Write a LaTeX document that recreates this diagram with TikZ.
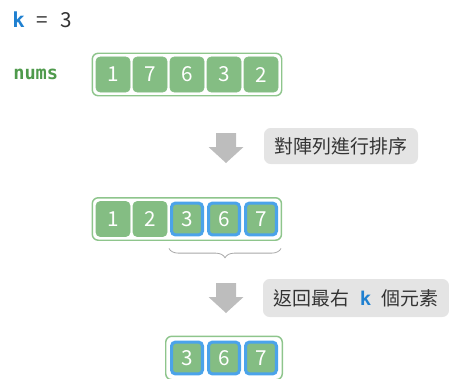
\documentclass[tikz,border=0pt]{standalone}
\usepackage{fontspec}
\setmainfont{Noto Sans CJK TC}
\newfontfamily\codefont{DejaVu Sans Mono}
\usepackage{xcolor}
\usepackage{tikz}
\usetikzlibrary{positioning, fit, calc, decorations.pathreplacing}

\definecolor{cellgreen}{HTML}{84BD83}
\definecolor{framegreen}{HTML}{8EC58C}
\definecolor{pickblue}{HTML}{4BA3EA}
\definecolor{numsgreen}{HTML}{4F9A4C}
\definecolor{kblue}{HTML}{1F80D0}
\definecolor{taggray}{HTML}{E4E4E4}
\definecolor{textgray}{HTML}{333333}
\definecolor{arrowgray}{HTML}{BDBDBD}
\definecolor{bracegray}{HTML}{A8A8A8}

\begin{document}
\begin{tikzpicture}[
    x=0.75pt, y=-0.75pt,
    cell/.style={draw=cellgreen, fill=cellgreen, rounded corners=3pt, text=white,
                 font=\fontsize{15.5}{17}\selectfont, minimum width=25.5pt,
                 minimum height=26.25pt, inner sep=0pt},
    pick/.style={cell, draw=pickblue, line width=2.3pt, minimum width=23.2pt,
                 minimum height=23.9pt},
    frame/.style={draw=framegreen, line width=1.1pt, rounded corners=4.5pt, inner sep=2.6pt},
    tag/.style={fill=taggray, rounded corners=5pt, text=textgray,
                font=\fontsize{14.2}{16}\selectfont, inner sep=0pt},
    blockarrow/.style={fill=arrowgray},
    brace/.style={draw=bracegray, line width=0.6pt,
                  decorate, decoration={brace, mirror, amplitude=7pt}}
]
  \useasboundingbox (0,0) rectangle (449,378);

  % Labels
  \node[anchor=base west, inner sep=0pt, text=textgray, font=\fontsize{15.5}{17}\selectfont] (kval) at (12,27.5)
      {{\codefont\bfseries\color{kblue}k}\hspace{9pt}=\hspace{9pt}3};
  \node[anchor=base west, inner sep=0pt, text=numsgreen, font=\fontsize{14}{16}\selectfont] (nums) at (13,79.5)
      {\codefont\bfseries nums};

  % Input array
  \node[cell] (a1) at (113,74.5) {1};
  \node[cell] (a2) at (150,74.5) {7};
  \node[cell] (a3) at (187,74.5) {6};
  \node[cell] (a4) at (224,74.5) {3};
  \node[cell] (a5) at (261,74.5) {2};
  \node[frame, fit=(a1)(a5)] (inbox) {};

  % Sorted array
  \node[cell] (b1) at (113,219) {1};
  \node[cell] (b2) at (150,219) {2};
  \node[pick] (b3) at (187,219) {3};
  \node[pick] (b4) at (224,219) {6};
  \node[pick] (b5) at (261,219) {7};
  \node[frame, fit=(b1)(b5)] (sortbox) {};

  % Result array
  \node[pick] (c1) at (187,358) {3};
  \node[pick] (c2) at (224,358) {6};
  \node[pick] (c3) at (261,358) {7};
  \node[frame, inner sep=3.2pt, fit=(c1)(c3)] (outbox) {};

  % Steps
  \coordinate (arr1) at (226,133);
  \coordinate (arr2) at (226,283);
  \fill[blockarrow] (arr1) ++(-10,0) -- ++(20,0) -- ++(0,14) -- ++(7.5,0)
      -- ++(-17.5,16) -- ++(-17.5,-16) -- ++(7.5,0) -- cycle;
  \fill[blockarrow] (arr2) ++(-10,0) -- ++(20,0) -- ++(0,14) -- ++(7.5,0)
      -- ++(-17.5,16) -- ++(-17.5,-16) -- ++(7.5,0) -- cycle;

  \node[tag, minimum width=115.5pt, minimum height=27pt] (sortstep) at (341,146)
      {對陣列進行排序};
  \node[tag, minimum width=139.5pt, minimum height=28.5pt] (takestep) at (356,298)
      {返回最右\hspace{8pt}{\codefont\bfseries\color{kblue}k}\hspace{8pt}個元素};

  % Brace under the last k
  \draw[brace] ($(b3.south west)+(-1,12)$) -- ($(b5.south east)+(3,12)$);
\end{tikzpicture}
\end{document}
